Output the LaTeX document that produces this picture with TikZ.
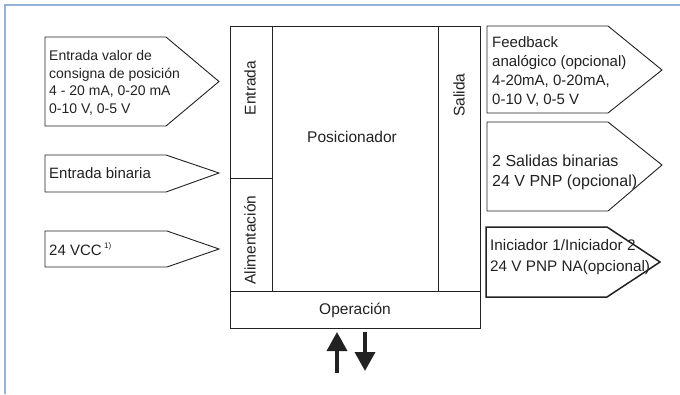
\documentclass[tikz,border=0pt]{standalone}
\usepackage{fontspec}
\setmainfont{Liberation Sans}
\usetikzlibrary{arrows.meta}
\definecolor{framecol}{RGB}{149,179,215}
\definecolor{inkcol}{RGB}{34,34,34}
\begin{document}
\begin{tikzpicture}
			[x=1pt,y=-1pt,
			box/.style={draw=inkcol,line width=0.9pt,fill=white},
			txt/.style={anchor=west,align=left,inner sep=0pt,text=inkcol},
			side/.style={rotate=90,inner sep=0pt,text=inkcol,font=\fontsize{15.5}{18}\selectfont},
			big/.style={inner sep=0pt,text=inkcol,font=\fontsize{15.5}{18}\selectfont},
			updown/.style={line width=3.6pt,-{Triangle[width=20pt,length=19pt]},draw=inkcol}]
			\useasboundingbox (0,0) rectangle (680,394);
			% frame
			\draw[framecol,line width=1.6pt] (5,394) -- (5,5) -- (680,5);

			% inputs
			\draw[box] (45,37) -- (166,37) -- (219,81.5) -- (166,126) -- (45,126) -- cycle;
			\draw[box] (45,155) -- (166,155) -- (219,173) -- (166,192) -- (45,192) -- cycle;
			\draw[box] (45,231) -- (167,231) -- (219,249) -- (167,267) -- (45,267) -- cycle;
			\node[txt,font=\fontsize{14}{17.6}\selectfont] (sollwert) at (49,83) {Entrada valor de\\consigna de posición\\4 - 20 mA, 0-20 mA\\0-10 V, 0-5 V};
			\node[txt,font=\fontsize{15}{18}\selectfont] (binin) at (49,173) {Entrada binaria};
			\node[txt,font=\fontsize{15}{18}\selectfont] (supply) at (49,249) {24 VCC\,\raisebox{0.9ex}{\fontsize{8}{8}\selectfont 1)}};

			% positioner
			\draw[box] (230,26) rectangle (480,328);
			\draw[box] (230,291) -- (480,291);
			\draw[box] (272,26) -- (272,291);
			\draw[box] (438,26) -- (438,291);
			\draw[box] (230,178) -- (272,178);
			\node[side] (entrada) at (250,88) {Entrada};
			\node[side] (alim) at (250,240) {Alimentación};
			\node[side] (salida) at (459,95) {Salida};
			\node[big] (pos) at (352,137) {Posicionador};
			\node[big] (oper) at (355,310) {Operación};

			% operation arrows
			\coordinate (upfoot) at (337,373);
			\coordinate (uphead) at (337,332);
			\coordinate (dnfoot) at (365,332);
			\coordinate (dnhead) at (365,371);
			\draw[updown] (upfoot) -- (uphead);
			\draw[updown] (dnfoot) -- (dnhead);

			% outputs
			\draw[box] (487,26) -- (608,26) -- (662,70) -- (608,113) -- (487,113) -- cycle;
			\draw[box] (487,122) -- (608,122) -- (662,165) -- (608,211) -- (487,211) -- cycle;
			\draw[box,line width=1.5pt] (486,227) -- (607,227) -- (660,262) -- (607,297) -- (486,297) -- cycle;
			\node[txt,font=\fontsize{15}{19}\selectfont] (feedback) at (492,72) {Feedback\\analógico (opcional)\\4-20mA, 0-20mA,\\0-10 V, 0-5 V};
			\node[txt,font=\fontsize{16}{20}\selectfont] (binout) at (492,172) {2 Salidas binarias\\24 V PNP (opcional)};
			\node[txt,font=\fontsize{15.3}{20.5}\selectfont] (init) at (490,257) {Iniciador 1/Iniciador 2\\24 V PNP NA(opcional)};
		\end{tikzpicture}
\end{document}
